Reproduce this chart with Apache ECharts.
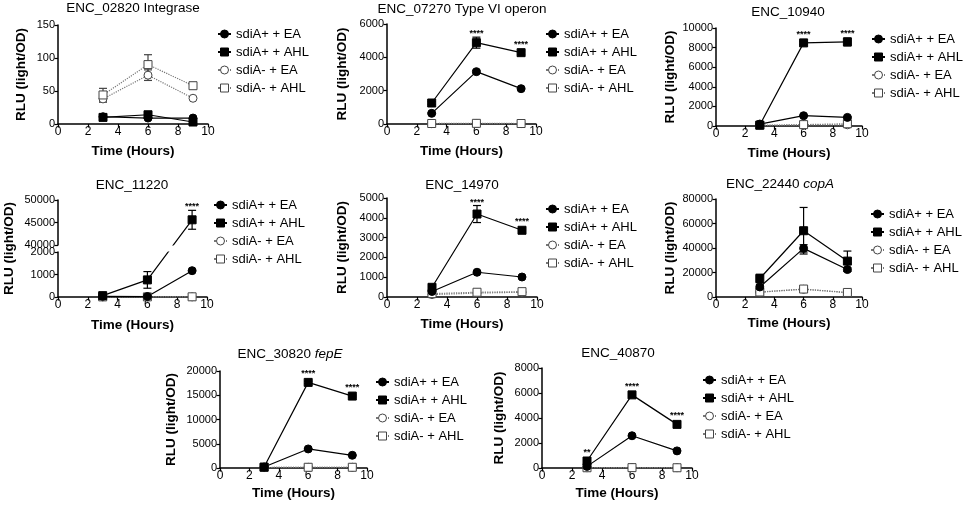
<!DOCTYPE html>
<html>
<head>
<meta charset="utf-8">
<title>sdiA reporter time courses</title>
<script src="https://cdn.jsdelivr.net/npm/echarts@6/dist/echarts.min.js"></script>
<style>
  html, body { margin: 0; padding: 0; background: #fff; }
  #chart { width: 964px; height: 505px; }
</style>
</head>
<body>
<div id="chart"></div>
<script type="text/javascript">
var hours = [3, 6, 9];
var seriesNames = ['sdiA+ + EA', 'sdiA+ + AHL', 'sdiA- + EA', 'sdiA- + AHL'];
var xTitle = 'Time (Hours)';
var yTitle = 'RLU (light/OD)';

// each panel: means in seriesNames order, error bars, stars over the AHL points
var enc02820Mean = [[11, 9, 9], [10, 14, 3], [38, 74, 39], [44, 90, 58]];
var enc02820Err = [[1, 2, 1], [1, 2, 2], [5, 8, 2], [10, 15, 5]];
var enc02820Stars = ['', '', ''];

var enc07270Mean = [[640, 3140, 2120], [1260, 4880, 4280], [20, 30, 20], [30, 40, 30]];
var enc07270Err = [[50, 80, 60], [80, 330, 100], [5, 5, 5], [5, 5, 5]];
var enc07270Stars = ['', '****', '****'];

var enc10940Mean = [[200, 1050, 880], [100, 8480, 8580], [50, 100, 120], [60, 140, 230]];
var enc10940Err = [[40, 60, 80], [30, 150, 400], [10, 20, 20], [10, 20, 40]];
var enc10940Stars = ['', '****', '****'];

var enc11220Mean = [[30, 20, 1170], [60, 760, 45600], [5, 5, 5], [5, 5, 8]];
var enc11220Err = [[5, 5, 40], [20, 370, 2100], [2, 2, 2], [2, 2, 2]];
var enc11220Stars = ['', '', '****'];

var enc14970Mean = [[280, 1250, 1010], [490, 4190, 3370], [120, 200, 240], [170, 240, 270]];
var enc14970Err = [[30, 60, 50], [60, 430, 60], [20, 20, 30], [20, 30, 40]];
var enc14970Stars = ['', '****', '****'];

var enc22440Mean = [[8200, 39700, 22400], [15100, 54100, 29300], [3900, 6300, 3500], [4100, 6500, 3700]];
var enc22440Err = [[1500, 3000, 1500], [3500, 19000, 8200], [500, 800, 400], [500, 900, 400]];
var enc22440Stars = ['', '', ''];

var enc30820Mean = [[200, 3930, 2620], [200, 17650, 14830], [100, 150, 150], [100, 150, 150]];
var enc30820Err = [[30, 100, 100], [50, 250, 200], [10, 10, 10], [10, 10, 10]];
var enc30820Stars = ['', '****', '****'];

var enc40870Mean = [[130, 2580, 1370], [560, 5850, 3490], [20, 30, 20], [20, 30, 20]];
var enc40870Err = [[30, 60, 60], [250, 120, 100], [5, 5, 5], [5, 5, 5]];
var enc40870Stars = ['**', '****', '****'];

var panels = [
    {title: 'ENC_02820 Integrase', mean: enc02820Mean, err: enc02820Err, stars: enc02820Stars,
     left: 58, top: 25, width: 150, height: 99, yMax: 150, yStep: 50,
     titleX: 133, titleY: 8, legendX: 217, legendY: 27.5, yGap: 30, xGap: 20},
    {title: 'ENC_07270 Type VI operon', mean: enc07270Mean, err: enc07270Err, stars: enc07270Stars,
     left: 387, top: 24, width: 149, height: 100, yMax: 6000, yStep: 2000,
     titleX: 462, titleY: 9, legendX: 545, legendY: 27.5, yGap: 38, xGap: 20},
    {title: 'ENC_10940', mean: enc10940Mean, err: enc10940Err, stars: enc10940Stars,
     left: 716, top: 28, width: 146, height: 98, yMax: 10000, yStep: 2000,
     titleX: 788, titleY: 12.5, legendX: 871, legendY: 32.5, yGap: 39, xGap: 20},
    {title: 'ENC_11220', mean: enc11220Mean, err: enc11220Err, stars: enc11220Stars,
     left: 58, top: 200, width: 149, height: 97,
     brk: {lowMax: 2000, lowStep: 1000, highMin: 40000, highMax: 50000, highStep: 5000, lowH: 45, gapH: 7, highH: 45},
     titleX: 132, titleY: 185, legendX: 213, legendY: 198.5, yGap: 42, xGap: 21},
    {title: 'ENC_14970', mean: enc14970Mean, err: enc14970Err, stars: enc14970Stars,
     left: 387, top: 198, width: 150, height: 99, yMax: 5000, yStep: 1000,
     titleX: 462, titleY: 185, legendX: 545, legendY: 202.5, yGap: 38, xGap: 20},
    {title: 'ENC_22440 {i|copA}', mean: enc22440Mean, err: enc22440Err, stars: enc22440Stars,
     left: 716, top: 199, width: 146, height: 98, yMax: 80000, yStep: 20000,
     titleX: 780, titleY: 184, legendX: 870, legendY: 207.5, yGap: 39, xGap: 19},
    {title: 'ENC_30820 {i|fepE}', mean: enc30820Mean, err: enc30820Err, stars: enc30820Stars,
     left: 220, top: 371, width: 147, height: 97, yMax: 20000, yStep: 5000,
     titleX: 290, titleY: 354, legendX: 375, legendY: 375.5, yGap: 42, xGap: 18},
    {title: 'ENC_40870', mean: enc40870Mean, err: enc40870Err, stars: enc40870Stars,
     left: 542, top: 368, width: 150, height: 100, yMax: 8000, yStep: 2000,
     titleX: 618, titleY: 353, legendX: 702, legendY: 373.5, yGap: 36, xGap: 18}
];

var font = 'Liberation Sans';
var styles = [
    {symbol: 'circle', fill: '#000', stroke: '#000', line: '#000', type: 'solid'},
    {symbol: 'rect', fill: '#000', stroke: '#000', line: '#000', type: 'solid'},
    {symbol: 'circle', fill: '#fff', stroke: '#444', line: '#777', type: 'dotted'},
    {symbol: 'rect', fill: '#fff', stroke: '#444', line: '#777', type: 'dotted'}
];
var drawOrder = [2, 3, 0, 1];

var grids = [], xAxes = [], yAxes = [], series = [], titles = [], legends = [];

function addGrid(left, top, width, height) {
    grids.push({left: left, top: top, width: width, height: height, outerBoundsMode: 'none', containLabel: false});
    return grids.length - 1;
}

function addX(gi, p, visible) {
    xAxes.push({
        gridIndex: gi, type: 'value', min: 0, max: 10, interval: 2, show: visible,
        name: visible ? xTitle : '', nameLocation: 'middle', nameGap: p.xGap, nameMoveOverlap: false,
        nameTextStyle: {fontFamily: font, fontWeight: 'bold', fontSize: 13.5, color: '#000'},
        axisLine: {show: true, onZero: false, lineStyle: {color: '#000', width: 1.5}},
        axisTick: {show: true, length: 3.5, lineStyle: {color: '#000', width: 1.2}},
        axisLabel: {fontFamily: font, fontSize: 12, color: '#000', margin: 2},
        splitLine: {show: false}
    });
    return xAxes.length - 1;
}

function addY(gi, min, max, step, opts) {
    opts = opts || {};
    yAxes.push({
        gridIndex: gi, type: 'value', min: min, max: max, interval: step,
        show: opts.hidden ? false : true,
        name: opts.name || '', nameLocation: 'middle', nameGap: opts.gap || 30, nameMoveOverlap: false,
        nameTextStyle: {fontFamily: font, fontWeight: 'bold', fontSize: 13.5, color: '#000'},
        axisLine: {show: !opts.nameOnly, onZero: false, lineStyle: {color: '#000', width: 1.5}},
        axisTick: {show: !opts.nameOnly, length: 3.5, lineStyle: {color: '#000', width: 1.2}},
        axisLabel: {show: !opts.nameOnly, fontFamily: font, fontSize: 11, color: '#000', margin: 3,
                    formatter: function (v) { return String(v); }},
        splitLine: {show: false}
    });
    return yAxes.length - 1;
}

function addLines(p, xi, yi, toY) {
    drawOrder.forEach(function (k) {
        var st = styles[k];
        series.push({
            type: 'line', name: seriesNames[k], xAxisIndex: xi, yAxisIndex: yi, z: 3,
            data: hours.map(function (h, j) { return [h, toY(p.mean[k][j])]; }),
            symbol: st.symbol, symbolSize: 8, showAllSymbol: true, clip: true,
            itemStyle: {color: st.fill, borderColor: st.stroke, borderWidth: 1},
            lineStyle: {color: st.line, width: 1.2, type: st.type},
            emphasis: {disabled: true}, animation: false
        });
    });
}

function addErrors(p, xi, yi, toY) {
    var data = [];
    drawOrder.forEach(function (k) {
        hours.forEach(function (h, j) {
            var m = p.mean[k][j], e = p.err[k][j];
            data.push([h, toY(m - e), toY(m + e), k < 2 ? 0 : 1]);
        });
    });
    series.push({
        type: 'custom', xAxisIndex: xi, yAxisIndex: yi, z: 2, silent: true, animation: false,
        data: data,
        renderItem: function (params, api) {
            var cs = params.coordSys;
            var hi = api.coord([api.value(0), api.value(2)]);
            var lo = api.coord([api.value(0), api.value(1)]);
            var y0 = Math.max(hi[1], cs.y), y1 = Math.min(lo[1], cs.y + cs.height);
            var color = api.value(3) ? '#444' : '#000';
            var st = {stroke: color, lineWidth: 1.2};
            var kids = [];
            if (y0 < y1) {
                var x = hi[0];
                kids.push({type: 'line', shape: {x1: x, y1: y0, x2: x, y2: y1}, style: st});
                if (hi[1] >= cs.y) kids.push({type: 'line', shape: {x1: x - 4, y1: hi[1], x2: x + 4, y2: hi[1]}, style: st});
                if (lo[1] <= cs.y + cs.height) kids.push({type: 'line', shape: {x1: x - 4, y1: lo[1], x2: x + 4, y2: lo[1]}, style: st});
            }
            return {type: 'group', children: kids};
        }
    });
}

function addStars(p, xi, yi, toY, keep) {
    var data = [], labels = [];
    hours.forEach(function (h, j) {
        if (p.stars[j] && keep(p.mean[1][j])) {
            data.push([h, toY(p.mean[1][j]), toY(p.mean[1][j] + p.err[1][j])]);
            labels.push(p.stars[j]);
        }
    });
    if (!data.length) return;
    series.push({
        type: 'custom', xAxisIndex: xi, yAxisIndex: yi, z: 4, silent: true, animation: false,
        data: data,
        renderItem: function (params, api) {
            var c = api.coord([api.value(0), api.value(1)]);
            var t = api.coord([api.value(0), api.value(2)]);
            var y = Math.min(c[1] - 5, t[1]) + 1;
            return {
                type: 'text', x: c[0], y: y,
                style: {text: labels[params.dataIndex], align: 'center', verticalAlign: 'bottom',
                        fill: '#000', fontFamily: font, fontSize: 9, fontWeight: 'bold'}
            };
        }
    });
}

function addTitleAndLegend(p) {
    titles.push({
        text: p.title, left: p.titleX, top: p.titleY - 7, textAlign: 'center', padding: 0,
        textStyle: {fontFamily: font, fontSize: 13.5, fontWeight: 'normal', color: '#000',
                    rich: {i: {fontFamily: font, fontSize: 13.5, fontStyle: 'italic', color: '#000'}}}
    });
    legends.push({
        data: seriesNames, orient: 'vertical', left: p.legendX, top: p.legendY,
        itemWidth: 13, itemHeight: 10, itemGap: 5, padding: 0, selectedMode: false,
        itemStyle: {borderWidth: 1},
        textStyle: {fontFamily: font, fontSize: 13, color: '#000'}
    });
}

panels.forEach(function (p) {
    addTitleAndLegend(p);
    if (!p.brk) {
        var same = function (v) { return v; };
        var all = function () { return true; };
        var gi = addGrid(p.left, p.top, p.width, p.height);
        var xi = addX(gi, p, true);
        var yi = addY(gi, 0, p.yMax, p.yStep, {name: yTitle, gap: p.yGap});
        addErrors(p, xi, yi, same);
        addLines(p, xi, yi, same);
        addStars(p, xi, yi, same, all);
        return;
    }
    // broken y axis: low and high segments share one straight-line display scale
    var b = p.brk;
    var toY = function (v) {
        if (v <= b.lowMax) return v / b.lowMax * b.lowH;
        if (v >= b.highMin) return b.lowH + b.gapH + (v - b.highMin) / (b.highMax - b.highMin) * b.highH;
        return b.lowH + (v - b.lowMax) / (b.highMin - b.lowMax) * b.gapH;
    };
    var full = addGrid(p.left, p.top, p.width, p.height);
    addX(full, p, false);
    addY(full, 0, 1, 1, {name: yTitle, gap: p.yGap, nameOnly: true});

    var low = addGrid(p.left, p.top + b.highH + b.gapH, p.width, b.lowH);
    var lowX = addX(low, p, true);
    addY(low, 0, b.lowMax, b.lowStep);
    var lowY = addY(low, 0, b.lowH, b.lowH, {hidden: true});

    var high = addGrid(p.left, p.top, p.width, b.highH);
    var highX = addX(high, p, false);
    addY(high, b.highMin, b.highMax, b.highStep);
    var highY = addY(high, b.lowH + b.gapH, b.lowH + b.gapH + b.highH, b.highH, {hidden: true});

    [[lowX, lowY, function (v) { return v <= b.lowMax; }],
     [highX, highY, function (v) { return v > b.lowMax; }]].forEach(function (seg) {
        addErrors(p, seg[0], seg[1], toY);
        addLines(p, seg[0], seg[1], toY);
        addStars(p, seg[0], seg[1], toY, seg[2]);
    });
});

var myChart = echarts.init(document.getElementById('chart'));
myChart.setOption({
    animation: false,
    backgroundColor: '#fff',
    title: titles,
    legend: legends,
    grid: grids,
    xAxis: xAxes,
    yAxis: yAxes,
    series: series
});
</script>
</body>
</html>
